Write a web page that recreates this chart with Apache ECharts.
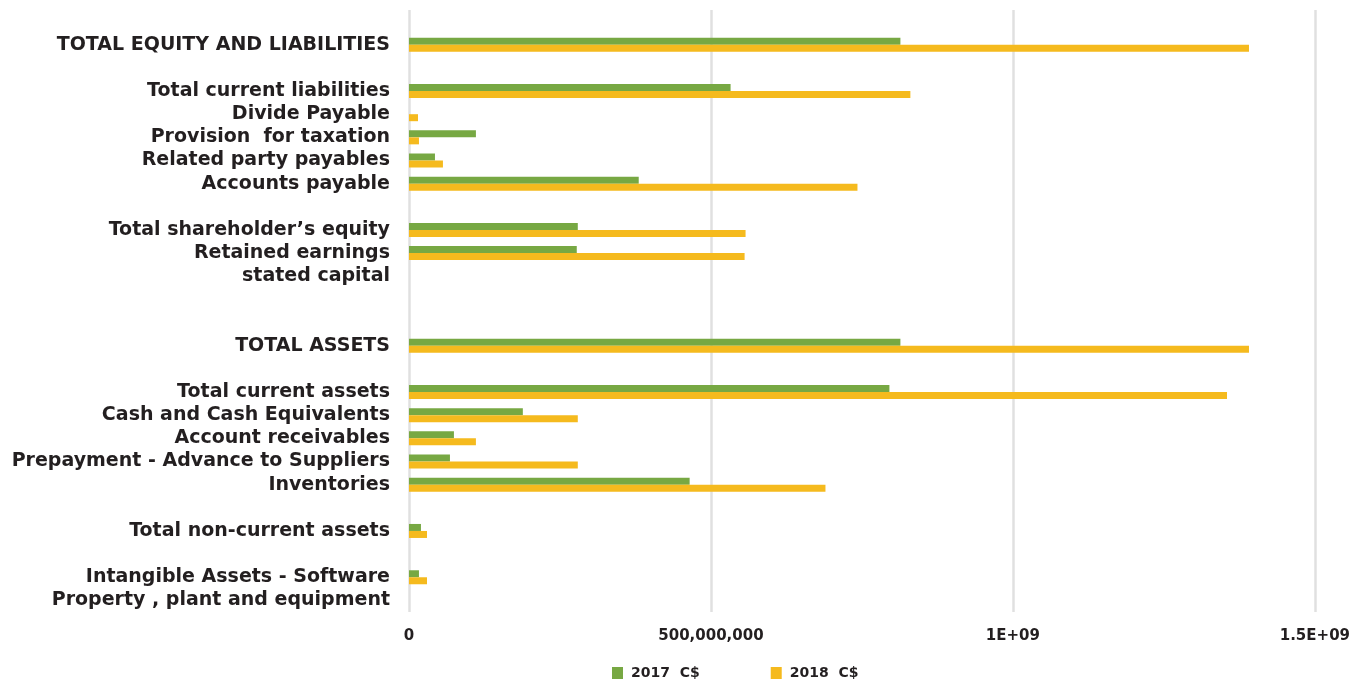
<!DOCTYPE html>
<html>
<head>
<meta charset="utf-8">
<script src="https://cdn.jsdelivr.net/npm/echarts@6/dist/echarts.min.js"></script>
<style>
html,body{margin:0;padding:0;background:#fff;}
#chart{width:1353px;height:684px;}
</style>
</head>
<body>
<div id="chart"></div>
<script>
// Categories, top to bottom ('' = empty spacer row)
const categories = [
  '',
  'TOTAL EQUITY AND LIABILITIES',
  '',
  'Total current liabilities',
  'Divide Payable',
  'Provision  for taxation',
  'Related party payables',
  'Accounts payable',
  '',
  'Total shareholder\u2019s equity',
  'Retained earnings',
  'stated capital',
  '',
  '',
  'TOTAL ASSETS',
  '',
  'Total current assets',
  'Cash and Cash Equivalents',
  'Account receivables',
  'Prepayment - Advance to Suppliers',
  'Inventories',
  '',
  'Total non-current assets',
  '',
  'Intangible Assets - Software',
  'Property , plant and equipment'
];
const seriesNames = ['2017  C$', '2018  C$'];
const values2017 = [
  null, 813.7e6, null, 532.5e6, 0, 110.8e6, 43e6, 380.4e6, null,
  279.5e6, 277.8e6, 0, null, null, 813.7e6, null,
  795.5e6, 188.5e6, 74.4e6, 67.8e6, 464.7e6, null, 19.8e6, null, 16.5e6, 0
];
const values2018 = [
  null, 1390.9e6, null, 830.2e6, 14.9e6, 16.5e6, 56.2e6, 742.6e6, null,
  557.3e6, 555.7e6, 0, null, null, 1390.9e6, null,
  1354.5e6, 279.5e6, 110.8e6, 279.5e6, 689.6e6, null, 29.8e6, null, 29.8e6, 0
];
const xTickValues = [0, 500000000, 1000000000, 1500000000];
const xTickLabels = ['0', '500,000,000', '1E+09', '1.5E+09'];

const FONT = 'DejaVu Sans';
const TEXT = '#231f20';
const chart = echarts.init(document.getElementById('chart'), null, {renderer: 'canvas'});
chart.setOption({
  animation: false,
  backgroundColor: '#ffffff',
  textStyle: {fontFamily: FONT},
  grid: {left: 409, right: 37, top: 10, bottom: 72, containLabel: false},
  legend: {
    left: 612, top: 666, padding: 0,
    itemWidth: 11, itemHeight: 12, itemGap: 71,
    icon: 'rect',
    textStyle: {fontFamily: FONT, fontWeight: 'bold', fontSize: 14, color: TEXT, padding: [0, 0, 0, 3]},
    data: seriesNames
  },
  xAxis: {
    type: 'value',
    min: 0, max: 1500000000, interval: 500000000,
    axisLine: {show: false},
    axisTick: {show: false},
    splitLine: {show: true, lineStyle: {color: '#e0e0e0', width: 2.5}},
    axisLabel: {
      margin: 17,
      fontFamily: FONT, fontWeight: 'bold', fontSize: 15, color: TEXT,
      formatter: function (v) {
        const i = xTickValues.indexOf(v);
        return i >= 0 ? xTickLabels[i] : '';
      }
    }
  },
  yAxis: {
    type: 'category',
    inverse: true,
    data: categories,
    axisLine: {show: false},
    axisTick: {show: false},
    splitLine: {show: false},
    axisLabel: {
      interval: 0, margin: 19,
      fontFamily: FONT, fontWeight: 'bold', fontSize: 19, color: TEXT
    }
  },
  series: [
    {name: seriesNames[0], type: 'bar', data: values2017, barWidth: 7, barGap: '0%',
     itemStyle: {color: '#77a843'}},
    {name: seriesNames[1], type: 'bar', data: values2018, barWidth: 7, barGap: '0%',
     itemStyle: {color: '#f5ba1e'}}
  ]
});
</script>
</body>
</html>
